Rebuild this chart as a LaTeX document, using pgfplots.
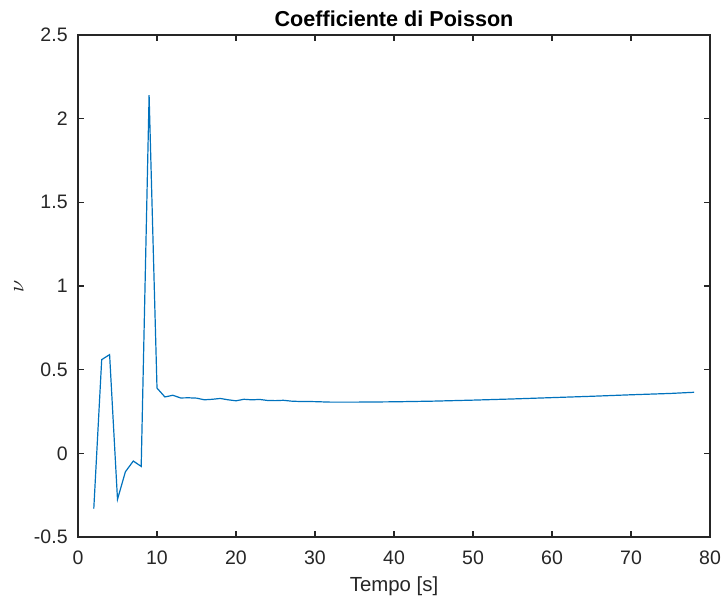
\documentclass[border=0pt]{standalone}
\usepackage{pgfplots}
\pgfplotsset{compat=1.18}
\usepackage{fontspec}
\setmainfont{Liberation Sans}
\definecolor{axgray}{RGB}{38,38,38}
\definecolor{mblue}{RGB}{0,114,189}
\begin{document}
\begin{tikzpicture}
\begin{axis}[
  scale only axis,
  width=316bp, height=251bp,
  xmin=0, xmax=80, ymin=-0.5, ymax=2.5,
  xtick={0,10,20,30,40,50,60,70,80},
  xticklabels={0,10,20,30,40,50,60,70,80},
  ytick={-0.5,0,0.5,1,1.5,2,2.5},
  yticklabels={-0.5,0,0.5,1,1.5,2,2.5},
  tick align=inside,
  major tick length=3bp,
  axis line style={axgray, line width=0.6bp},
  every tick/.style={axgray, line width=0.6bp},
  tick label style={font=\fontsize{9.75bp}{11bp}\selectfont, text=axgray},
  /pgf/number format/assume math mode=true,
  xticklabel style={inner sep=0pt, anchor=north, yshift=-6.5bp},
  yticklabel style={inner sep=0pt, anchor=east, xshift=-5bp},
  every axis title/.style={at={(axis description cs:0.5,1)}, anchor=base, yshift=4bp, inner sep=0pt, font=\fontsize{10.8bp}{12bp}\selectfont},
  title={\bfseries Coefficiente di Poisson},
  every axis x label/.style={at={(axis description cs:0.5,0)}, anchor=base, yshift=-27bp, inner sep=0pt, font=\fontsize{10.2bp}{12bp}\selectfont, text=axgray},
  xlabel={Tempo [s]},
  every axis y label/.style={at={(axis description cs:0,0.5)}, rotate=90, anchor=center, yshift=29.5bp, inner sep=0pt, font=\fontsize{10.7bp}{12bp}\selectfont, text=axgray},
  ylabel={$\nu$},
]
\addplot[mblue, line width=0.6bp] coordinates {
(2,-0.33) (3,0.56) (4,0.59) (5,-0.275) (6,-0.11) (7,-0.046) (8,-0.078)
(9,2.14) (10,0.39) (11,0.337) (12,0.347) (13,0.331) (14,0.332) (15,0.330)
(16,0.320) (17,0.323) (18,0.328) (19,0.320) (20,0.314) (21,0.323) (22,0.320)
(23,0.322) (24,0.316) (25,0.315) (26,0.317) (27,0.312) (28,0.310) (29,0.310)
(30,0.309) (32,0.306) (35,0.306) (40,0.308) (45,0.312) (50,0.318) (55,0.325)
(60,0.333) (65,0.341) (70,0.350) (75,0.358) (78,0.365)
};
\end{axis}
\path ([shift={(-39bp,-31bp)}]current axis.south west) rectangle ([shift={(7bp,17.5bp)}]current axis.north east);
\end{tikzpicture}
\end{document}
